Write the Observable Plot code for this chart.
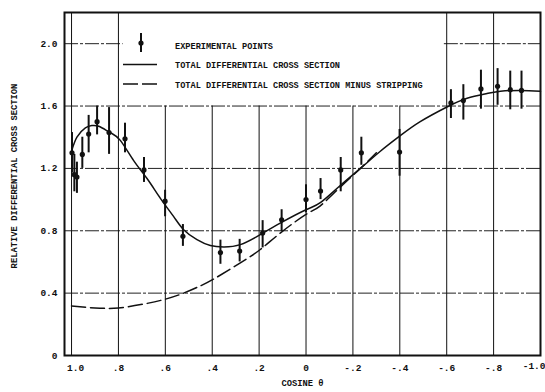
<!DOCTYPE html>
<html><head><meta charset="utf-8">
<script src="https://cdn.jsdelivr.net/npm/d3@7"></script>
<script src="https://cdn.jsdelivr.net/npm/@observablehq/plot@0.6"></script>
<style>body{margin:0;background:#fff}</style>
</head><body><div id="chart"></div>
<script>
// Experimental points
const ptCos  = [0.998, 0.988, 0.977, 0.954, 0.927, 0.891, 0.840, 0.772, 0.691, 0.601, 0.525, 0.365, 0.283, 0.185, 0.104, 0.0, -0.062, -0.148, -0.236, -0.399, -0.618, -0.671, -0.746, -0.817, -0.871, -0.919];
const ptVal  = [1.30, 1.16, 1.145, 1.29, 1.42, 1.50, 1.43, 1.39, 1.19, 0.99, 0.765, 0.66, 0.67, 0.785, 0.87, 1.00, 1.055, 1.19, 1.30, 1.305, 1.62, 1.635, 1.71, 1.727, 1.705, 1.70];
const ptLow  = [1.17, 1.05, 1.04, 1.20, 1.30, 1.415, 1.29, 1.30, 1.11, 0.89, 0.70, 0.585, 0.60, 0.69, 0.795, 0.915, 1.00, 1.05, 1.22, 1.15, 1.52, 1.51, 1.58, 1.605, 1.576, 1.58];
const ptHigh = [1.43, 1.29, 1.24, 1.40, 1.54, 1.60, 1.59, 1.49, 1.27, 1.06, 0.84, 0.74, 0.745, 0.865, 0.935, 1.095, 1.135, 1.27, 1.40, 1.45, 1.705, 1.737, 1.83, 1.84, 1.824, 1.824];

// Total differential cross section (solid)
const solidCos = [1.0, 0.977, 0.941, 0.913, 0.884, 0.835, 0.792, 0.735, 0.678, 0.621, 0.565, 0.522, 0.465, 0.408, 0.351, 0.280, 0.195, 0.110, 0.0, -0.061, -0.146, -0.232, -0.317, -0.402, -0.487, -0.601, -0.687, -0.772, -0.829, -0.914, -1.0];
const solidVal = [1.31, 1.40, 1.46, 1.475, 1.47, 1.43, 1.38, 1.25, 1.135, 1.008, 0.892, 0.807, 0.743, 0.705, 0.696, 0.711, 0.775, 0.849, 0.935, 0.98, 1.09, 1.20, 1.31, 1.41, 1.50, 1.594, 1.65, 1.68, 1.695, 1.70, 1.695];

// Total differential cross section minus stripping (dashed)
const dashCos = [1.0, 0.9, 0.8, 0.692, 0.603, 0.522, 0.451, 0.394, 0.280, 0.195, 0.110, 0.0, -0.061, -0.146, -0.232, -0.30];
const dashVal = [0.318, 0.305, 0.305, 0.33, 0.36, 0.40, 0.446, 0.49, 0.594, 0.68, 0.785, 0.905, 0.96, 1.08, 1.20, 1.30];

const xTicks = [1.0, 0.8, 0.6, 0.4, 0.2, 0.0, -0.2, -0.4, -0.6, -0.8, -1.0];
const xTickLabels = ["1.0", ".8", ".6", ".4", ".2", "0", "-.2", "-.4", "-.6", "-.8", "-1.0"];
const yTicks = [0, 0.4, 0.8, 1.2, 1.6, 2.0];
const yTickLabels = ["0", "0.4", "0.8", "1.2", "1.6", "2.0"];

const legendLabels = ["EXPERIMENTAL POINTS", "TOTAL DIFFERENTIAL CROSS SECTION", "TOTAL DIFFERENTIAL CROSS SECTION MINUS STRIPPING"];
const xLabel = "COSINE θ";
const yLabel = "RELATIVE DIFFERENTIAL CROSS SECTION";

// legend box (data units) over which the grid is not drawn
const legendXFrom = 0.78, legendXTo = -0.59, legendYFrom = 1.6;
const xMax = 1.03, xMin = -1.0, yMax = 2.2;

const points = ptCos.map((c, i) => ({cos: c, v: ptVal[i], lo: ptLow[i], hi: ptHigh[i]}));
const solid = solidCos.map((c, i) => ({cos: c, v: solidVal[i]}));
const dashed = dashCos.map((c, i) => ({cos: c, v: dashVal[i]}));
const xLab = new Map(xTicks.map((t, i) => [Math.round(t * 10), xTickLabels[i]]));
const yLab = new Map(yTicks.map((t, i) => [Math.round(t * 10), yTickLabels[i]]));
const vGrid = xTicks.map(t => ({x: t, y2: (t < legendXFrom && t > legendXTo) ? legendYFrom : yMax}));
const hGrid = [];
yTicks.filter(d => d > 0).forEach(t => {
  if (t > legendYFrom) {
    hGrid.push({y: t, x1: xMax, x2: legendXFrom});
    hGrid.push({y: t, x1: legendXTo, x2: xMin});
  } else hGrid.push({y: t, x1: xMax, x2: xMin});
});

const font = "'Liberation Mono', 'DejaVu Sans Mono', monospace";
const fmtX = d => xLab.get(Math.round(d * 10));

const chart = Plot.plot({
  width: 545, height: 392,
  marginLeft: 64, marginRight: 5, marginTop: 12, marginBottom: 37,
  style: {fontFamily: font, fontWeight: "bold", fontSize: "9px", color: "#111", background: "#fff"},
  x: {domain: [xMax, xMin]},
  y: {domain: [0, yMax]},
  marks: [
    Plot.ruleY(hGrid, {y: "y", x1: "x1", x2: "x2", stroke: "#222", strokeWidth: 1, strokeDasharray: "14,2,3,2"}),
    Plot.ruleX(vGrid, {x: "x", y1: 0, y2: "y2", stroke: "#111", strokeWidth: 1}),
    Plot.line(dashed, {x: "cos", y: "v", stroke: "#111", strokeWidth: 1.5, strokeDasharray: "14,5", curve: "natural"}),
    Plot.line(solid, {x: "cos", y: "v", stroke: "#111", strokeWidth: 1.5, curve: "natural"}),
    Plot.ruleX(points, {x: "cos", y1: "lo", y2: "hi", stroke: "#111", strokeWidth: 2}),
    Plot.dot(points, {x: "cos", y: "v", r: 2.6, fill: "#111", stroke: "none"}),
    Plot.axisX({ticks: xTicks.slice(1, -1), tickFormat: fmtX, tickSize: 0, tickPadding: 9, label: null, fontSize: 9.5}),
    Plot.axisX({ticks: xTicks.slice(0, 1), tickFormat: fmtX, tickSize: 0, tickPadding: 9, label: null, fontSize: 9.5, dx: 4}),
    Plot.axisX({ticks: xTicks.slice(-1), tickFormat: fmtX, tickSize: 0, tickPadding: 7, label: null, fontSize: 9.5, textAnchor: "end", dx: 5}),
    Plot.axisY({ticks: yTicks, tickFormat: d => yLab.get(Math.round(d * 10)), tickSize: 0, tickPadding: 7, label: null, fontSize: 9.5}),
    Plot.text([xLabel], {frameAnchor: "bottom", dy: 30, fontSize: 8.8, fontWeight: "bold"}),
    Plot.text([yLabel], {frameAnchor: "left", textAnchor: "middle", dx: -50, dy: -8, rotate: -90, fontSize: 8.8, fontWeight: "bold"}),
    Plot.frame({stroke: "#111", strokeWidth: 2})
  ]
});

// legend drawn inside the plot area
const svg = d3.select(chart);
const g = svg.append("g").attr("font-family", font).attr("font-weight", "bold").attr("font-size", "8.6px").attr("fill", "#111").attr("text-anchor", "start");
g.append("line").attr("x1", 141).attr("x2", 141).attr("y1", 33).attr("y2", 52).attr("stroke", "#111").attr("stroke-width", 2);
g.append("circle").attr("cx", 141).attr("cy", 43).attr("r", 2.6).attr("fill", "#111");
g.append("line").attr("x1", 123).attr("x2", 157).attr("y1", 64.5).attr("y2", 64.5).attr("stroke", "#111").attr("stroke-width", 1.5);
g.append("line").attr("x1", 123).attr("x2", 157).attr("y1", 84).attr("y2", 84).attr("stroke", "#111").attr("stroke-width", 1.5).attr("stroke-dasharray", "15,4");
[45.5, 64.5, 85].forEach((y, i) => {
  g.append("text").attr("x", 175).attr("y", y).attr("dy", "0.35em").attr("text-anchor", "start").text(legendLabels[i]);
});

document.getElementById("chart").appendChild(chart);
</script>
</body></html>
